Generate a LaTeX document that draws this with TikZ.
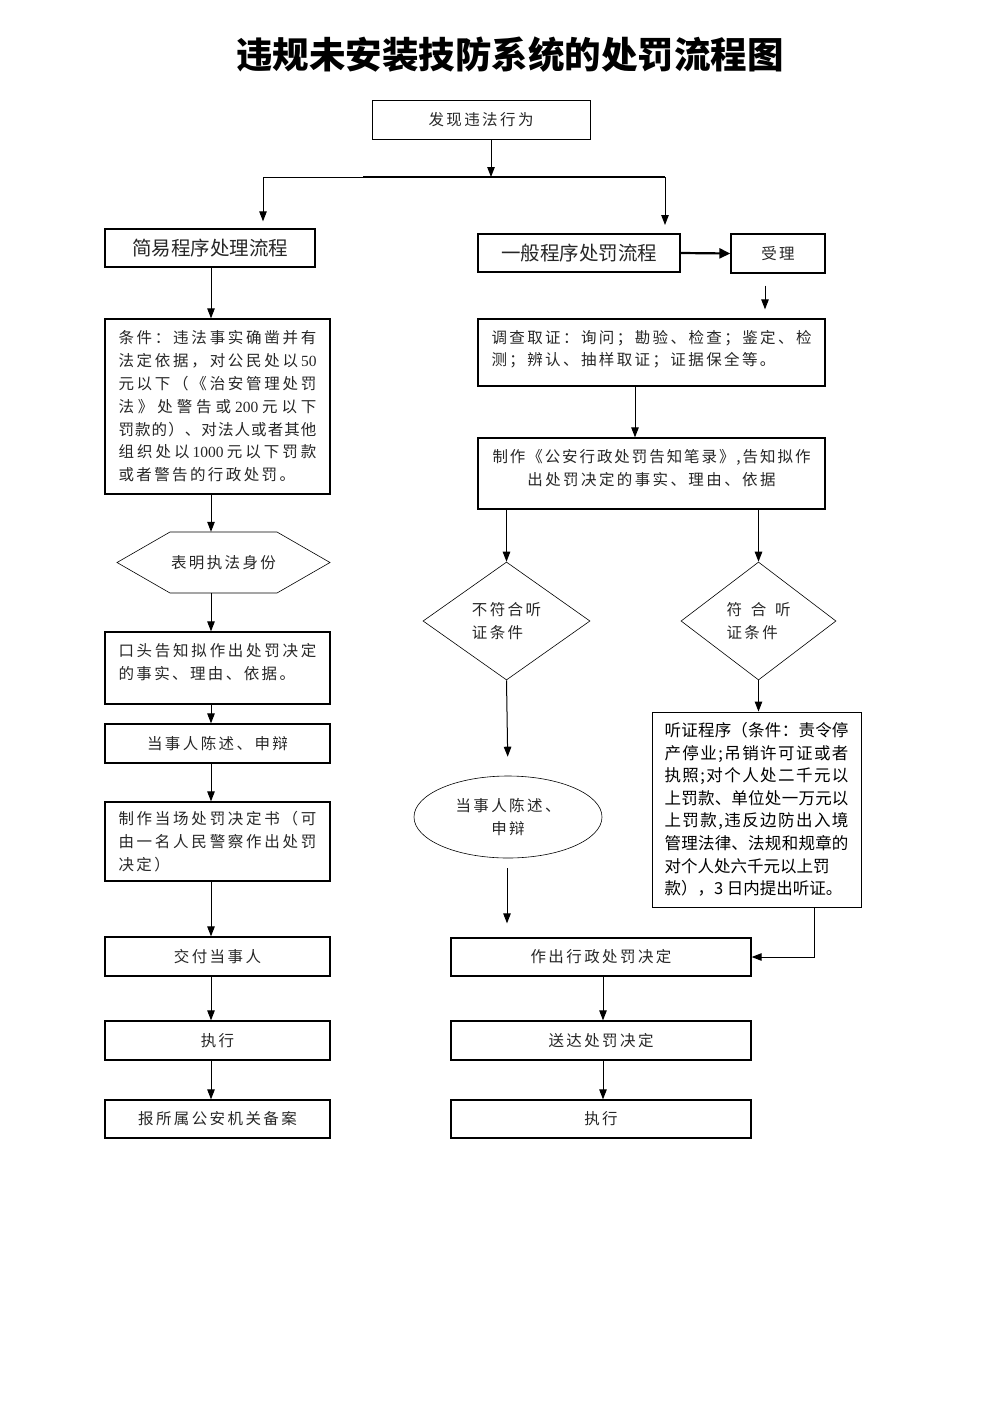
\documentclass[tikz,border=0pt]{standalone}
\usepackage{fontspec}
\setmainfont{Liberation Serif}
\newfontfamily\cjk{Noto Sans CJK SC}
\usetikzlibrary{shapes.geometric,arrows.meta}
\newcommand\lnum[1]{{\rmfamily #1}}
\newcommand\lsskip{\hskip 2.4pt}
\def\jlsep{\hfill}
\def\jlfirst#1{#1\jlrest}
\def\jlrest#1{\ifx\relax#1\else\jlsep#1\expandafter\jlrest\fi}
\newcommand\jl[2]{\hbox to #1{\let\jlsep\hfill\jlfirst#2\relax}}
\newcommand\ls[1]{\hbox{\let\jlsep\lsskip\jlfirst#1\relax}}
\newcommand\bodyfont{\cjk\fontsize{15.5}{22.8}\selectfont}
\newcommand\headfont{\cjk\fontsize{19.5}{24}\selectfont}
\newcommand\hearfont{\cjk\fontsize{16.5}{22.6}\selectfont}
\begin{document}
\begin{tikzpicture}[x=1pt,y=-1pt,
  box/.style={draw, line width=1.3pt, inner sep=0pt, font=\bodyfont, text=black!85},
  thinshape/.style={draw, line width=0.6pt, inner sep=0pt, font=\bodyfont, text=black!85},
  conn/.style={line width=1pt},
  arr/.style={line width=1pt, -{Triangle[width=7.5pt,length=10pt]}}]
\useasboundingbox (0,0) rectangle (992,1403);

% title
\node[font=\cjk\bfseries\fontsize{36.5}{40}\selectfont] (title) at (510,55) {违规未安装技防系统的处罚流程图};

% top
\node[box, line width=1pt, minimum width=218pt, minimum height=39pt] (found) at (481,119.5) {\ls{发现违法行为}};
\coordinate (j) at (491,177);
\coordinate (jl) at (263,177);
\coordinate (jm) at (363,177);
\coordinate (jr) at (665,177);
\draw[arr] (found.south -| j) -- (j);
\draw[conn] (jl) -- (jm);
\draw[line width=2pt] (jm) -- (jr);

\node[box, minimum width=210pt, minimum height=38pt, font=\headfont] (simple) at (210,248) {简易程序处理流程};
\node[box, line width=2pt, minimum width=202pt, minimum height=38pt, font=\headfont] (general) at (579,253) {一般程序处罚流程};
\node[box, minimum width=94pt, minimum height=39pt] (accept) at (778,253.5) {\ls{受理}};
\draw[arr, shorten >=7pt] (jl) -- (jl |- simple.north);
\draw[arr, shorten >=8pt] (jr) -- (jr |- general.north);
\draw[line width=2.2pt, -{Triangle[width=10pt,length=11pt]}] (general.east) -- (accept.west);

% left column
\coordinate (lx) at (211,0);
\node[box, minimum width=225pt, minimum height=175pt, align=left] (cond) at (217.5,406.5) {%
\jl{198pt}{条件：违法事实确凿并有}\\
\jl{198pt}{法定依据，对公民处以{\lnum{50}}}\\
\jl{198pt}{元以下（《治安管理处罚}\\
\jl{198pt}{法》处警告或{\lnum{200}}元以下}\\
\jl{198pt}{罚款的）、对法人或者其他}\\
\jl{198pt}{组织处以{\lnum{1000}}元以下罚款}\\
\ls{或者警告的行政处罚。}};

\draw[line width=0.6pt] (117,562.5) -- (170,532) -- (277,532) -- (330,562.5) -- (277,593) -- (170,593) -- cycle;
\node[inner sep=0pt, minimum width=213pt, minimum height=61pt, font=\bodyfont, text=black!85] (ident) at (223.5,562.5) {\ls{表明执法身份}};

\node[box, minimum width=225pt, minimum height=72pt, align=left, text depth=13pt] (oral) at (217.5,668) {%
\jl{198pt}{口头告知拟作出处罚决定}\\
\ls{的事实、理由、依据。}};
\node[box, minimum width=225pt, minimum height=39pt] (state) at (217.5,743.5) {\ls{当事人陈述、申辩}};
\node[box, minimum width=225pt, minimum height=79pt, align=left] (make) at (217.5,841.5) {%
\jl{198pt}{制作当场处罚决定书（可}\\
\jl{198pt}{由一名人民警察作出处罚}\\
\ls{决定）}};
\node[box, minimum width=225pt, minimum height=39pt] (deliver) at (217.5,956.5) {\ls{交付当事人}};
\node[box, minimum width=225pt, minimum height=39pt] (exec1) at (217.5,1040.5) {\ls{执行}};
\node[box, minimum width=225pt, minimum height=38pt] (file) at (217.5,1119) {\ls{报所属公安机关备案}};

\draw[arr] (simple.south -| lx) -- (cond.north -| lx);
\foreach \a/\b in {cond/ident, ident/oral, oral/state, state/make, make/deliver, deliver/exec1, exec1/file}
  \draw[arr] (\a.south -| lx) -- (\b.north -| lx);

% right column
\node[box, minimum width=347pt, minimum height=67pt, align=left, text depth=9pt] (invest) at (651.5,352.5) {%
\jl{320pt}{调查取证：询问；勘验、检查；鉴定、检}\\
\ls{测；辨认、抽样取证；证据保全等。}};
\node[box, minimum width=347pt, minimum height=71pt, align=center, text depth=12pt] (notice) at (651.5,473.5) {%
\jl{318pt}{制作《公安行政处罚告知笔录》,告知拟作}\\
\ls{出处罚决定的事实、理由、依据}};

\coordinate (ax) at (765,0);
\coordinate (ix) at (635,0);
\draw[arr, shorten <=12pt, shorten >=9pt] (accept.south -| ax) -- (invest.north -| ax);
\draw[arr] (invest.south -| ix) -- (notice.north -| ix);

\node[thinshape, diamond, minimum width=167pt, minimum height=118pt, align=left] (nd) at (506.5,621) {%
\ls{不符合听}\\ \ls{证条件}};
\node[thinshape, diamond, minimum width=155pt, minimum height=118pt, align=left] (yd) at (758.5,621) {%
\jl{64pt}{符合听}\\ \ls{证条件}};
\draw[arr] (notice.south -| nd.north) -- (nd.north);
\draw[arr] (notice.south -| yd.north) -- (yd.north);

\node[thinshape, ellipse, minimum width=188pt, minimum height=82pt, align=center] (plead) at (508,817) {%
\ls{当事人陈述、}\\ \ls{申辩}};
\draw[arr, shorten >=19pt] (nd.south) -- (plead.north);

\node[box, line width=0.9pt, minimum width=209pt, minimum height=195pt, align=left, font=\hearfont, text=black] (hearing) at (756.5,809.5) {%
\jl{184pt}{听证程序（条件：责令停}\\
\jl{184pt}{产停业;吊销许可证或者}\\
\jl{184pt}{执照;对个人处二千元以}\\
\jl{184pt}{上罚款、单位处一万元以}\\
\jl{184pt}{上罚款,违反边防出入境}\\
\jl{184pt}{管理法律、法规和规章的}\\
对个人处六千元以上罚\\
款），3 日内提出听证。};
\draw[arr] (yd.south) -- (hearing.north -| yd.south);

\node[box, minimum width=300pt, minimum height=38pt] (decide) at (601,957) {\ls{作出行政处罚决定}};
\node[box, minimum width=300pt, minimum height=39pt] (send) at (601,1040.5) {\ls{送达处罚决定}};
\node[box, minimum width=300pt, minimum height=38pt] (exec2) at (601,1119) {\ls{执行}};

\coordinate (px) at (507,0);
\coordinate (hx) at (814,0);
\coordinate (dx) at (603,0);
\draw[arr, shorten <=10pt, shorten >=14pt] (plead.south -| px) -- (decide.north -| px);
\draw[arr] (hearing.south -| hx) |- (decide.east);
\draw[arr] (decide.south -| dx) -- (send.north -| dx);
\draw[arr] (send.south -| dx) -- (exec2.north -| dx);
\end{tikzpicture}
\end{document}
